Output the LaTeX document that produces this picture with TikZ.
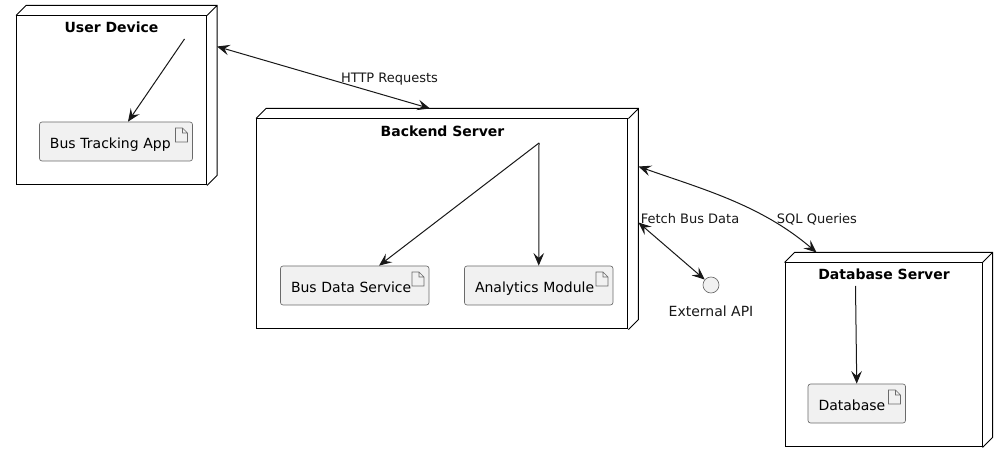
\documentclass[tikz,border=0pt]{standalone}
\usepackage{fontspec}
\setmainfont{DejaVu Sans}
\usetikzlibrary{arrows.meta}
\definecolor{ink}{HTML}{181818}
\definecolor{boxfill}{HTML}{F1F1F1}
\definecolor{boxline}{HTML}{6A6A6A}
\tikzset{
  nodebox/.style={draw=black,line width=0.75pt,rectangle,inner sep=0pt,line join=miter,
    append after command={\pgfextra{\draw[black,line width=0.75pt]
      (\tikzlastnode.north west) -- ([shift={(7.5pt,7.5pt)}]\tikzlastnode.north west)
      -- ([shift={(7.5pt,7.5pt)}]\tikzlastnode.north east)
      -- ([shift={(7.5pt,7.5pt)}]\tikzlastnode.south east)
      -- (\tikzlastnode.south east)
      (\tikzlastnode.north east) -- ([shift={(7.5pt,7.5pt)}]\tikzlastnode.north east);}}},
  title/.style={font=\bfseries\fontsize{10.5pt}{12pt}\selectfont,inner sep=0pt,text=black},
  lbl/.style={font=\fontsize{10.5pt}{12pt}\selectfont,inner sep=0pt,text=ink},
  edgelbl/.style={font=\fontsize{9.75pt}{12pt}\selectfont,inner sep=0pt,text=ink},
  artifact/.style={draw=boxline,fill=boxfill,line width=0.5pt,rounded corners=1.9pt,rectangle,
    font=\fontsize{10.5pt}{12pt}\selectfont,text=black,align=left,text width=#1,inner xsep=7.875pt,inner ysep=0pt,
    minimum height=29.25pt,text height=10pt,text depth=0.2pt,
    path picture={\draw[boxline,line width=0.5pt,rounded corners=0pt]
      ([shift={(-12.75pt,-4.5pt)}]path picture bounding box.north east)
      -- ([shift={(-7.5pt,-4.5pt)}]path picture bounding box.north east)
      -- ([shift={(-3.75pt,-8.25pt)}]path picture bounding box.north east)
      -- ([shift={(-3.75pt,-15pt)}]path picture bounding box.north east)
      -- ([shift={(-12.75pt,-15pt)}]path picture bounding box.north east) -- cycle
      ([shift={(-7.5pt,-4.5pt)}]path picture bounding box.north east)
      -- ([shift={(-7.5pt,-8.25pt)}]path picture bounding box.north east)
      -- ([shift={(-3.75pt,-8.25pt)}]path picture bounding box.north east);}},
  iface/.style={circle,draw=boxline,fill=boxfill,line width=0.5pt,minimum size=12pt,inner sep=0pt},
  conn/.style={draw=ink,line width=0.75pt,>={Stealth[length=9.5pt,width=8pt,inset=3.7pt]}},
}
\begin{document}
\begin{tikzpicture}[x=0.75pt,y=-0.75pt]
\useasboundingbox (0,0) rectangle (1008,463);
\fill[white] (0,0) rectangle (1008,463);
% nodes
\node[nodebox,minimum width=142.5pt,minimum height=126.75pt] (user) at (111.5,100.5) {};
\node[nodebox,minimum width=278.6pt,minimum height=157.5pt] (backend) at (442.25,224) {};
\node[nodebox,minimum width=147.75pt,minimum height=138pt] (dbserver) at (883.5,355) {};
\node[title] (usertitle) at (111.5,27) {User Device};
\node[title] (backendtitle) at (442.5,131) {Backend Server};
\node[title] (dbtitle) at (884,274) {Database Server};
\node[artifact=99pt] (app) at (116,141.5) {Bus Tracking App};
\node[artifact=95.625pt] (busdata) at (354.75,285.5) {Bus Data Service};
\node[artifact=95.625pt] (analytics) at (538.75,285.5) {Analytics Module};
\node[artifact=57.375pt] (database) at (856.75,403.5) {Database};
\node[iface] (api) at (711,285) {};
\node[lbl] (apilabel) at (711,311) {External API};
\coordinate (userport) at (184.5,39);
\coordinate (backendport) at (539,143);
\coordinate (dbport) at (855.5,286);
% internal links
\draw[conn,->] (userport) -- ([xshift=9pt]app.north);
\draw[conn,->] (backendport) -- ([xshift=18.2pt]busdata.north);
\draw[conn,->] (backendport) -- (analytics.north);
\draw[conn,->] (dbport) -- (database.north);
% external links
\draw[conn,<->] ([shift={(7.5pt,-23.25pt)}]user.north east) -- ([shift={(-9.19pt,7.5pt)}]backend.north);
\draw[conn,<->] ([shift={(7.5pt,-36pt)}]backend.north east) .. controls ([shift={(54pt,-52.5pt)}]backend.north east) and ([shift={(99pt,-64.5pt)}]backend.north east) .. ([shift={(24pt,7.5pt)}]dbserver.north west);
\draw[conn,<->] ([shift={(7.5pt,-78pt)}]backend.north east) -- (api);
\node[edgelbl] (httplabel) at (389.5,79) {HTTP Requests};
\node[edgelbl] (fetchlabel) at (690,219) {Fetch Bus Data};
\node[edgelbl] (sqllabel) at (817,219) {SQL Queries};
\end{tikzpicture}
\end{document}
